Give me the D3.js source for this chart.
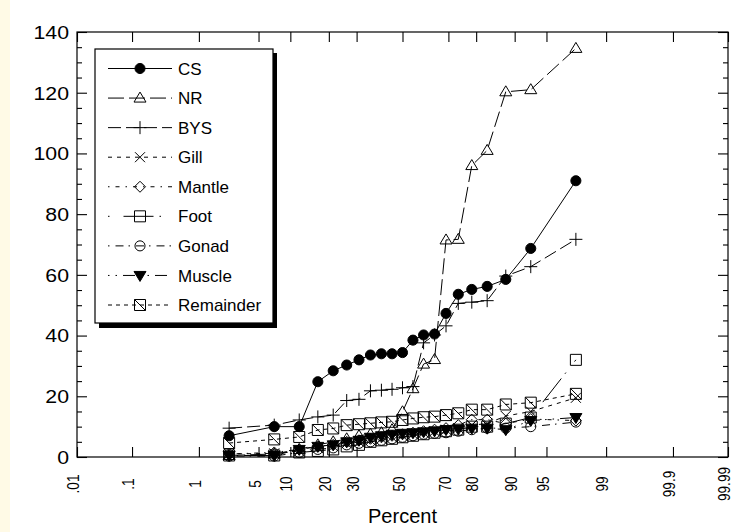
<!DOCTYPE html>
<html><head><meta charset="utf-8">
<script src="https://cdn.jsdelivr.net/npm/d3@7"></script>
<style>
html,body{margin:0;padding:0;background:#fff;}
svg{display:block;}
text{font-family:"Liberation Sans", Arial, sans-serif;fill:#000;}
</style></head><body>
<svg id="chart" width="733" height="532"></svg>
<script>
// ---- data ----
const percent = [2.38, 7.14, 11.9, 16.67, 21.43, 26.19, 30.95, 35.71, 40.48, 45.24, 50, 54.76, 59.52, 64.29, 69.05, 73.81, 78.57, 83.33, 88.1, 92.86, 97.62];
const seriesNames = ["CS", "NR", "BYS", "Gill", "Mantle", "Foot", "Gonad", "Muscle", "Remainder"];
const cs        = [7, 10, 10, 24.8, 28.4, 30.3, 32, 33.6, 34, 34, 34.4, 38.5, 40.2, 40.5, 47.3, 53.6, 55.2, 56.2, 58.5, 68.7, 91];
const nr        = [0.5, 1, 2.5, 4, 5, 6, 7, 7.5, 8, 9, 14.9, 22.5, 30.6, 32.1, 71.5, 71.7, 96, 101, 120.3, 121, 134.6];
const bys       = [9.5, 10.5, 12.2, 13.2, 13.8, 18.6, 19, 21.8, 22, 22.3, 22.8, 23.2, 37.6, 40.2, 43.2, 50.6, 51, 51.5, 59.6, 62.7, 71.7];
const gill      = [1, 1.2, 2, 3, 3.5, 4.5, 5, 5.5, 6, 6.5, 7, 7.5, 8, 8.5, 9, 9.5, 10.5, 11, 13.5, 15, 19.5];
const mantle    = [1, 1.5, 2.5, 3.5, 4, 5, 5.5, 6, 6.5, 7, 7.5, 8, 8.5, 9, 9.5, 10.5, 12.3, 12.3, 11, 12.5, 12];
const foot      = [0.5, 0.5, 1.5, 2, 2.5, 3.5, 4, 5, 5.5, 6, 6.5, 7, 7.5, 8, 8.5, 9, 10, 10, 11, 13, 32];
const gonad     = [0.3, 0.3, 1.5, 2.5, 3, 4, 4.5, 5, 5.5, 6, 6.5, 7, 7.5, 7.8, 8, 8.5, 9, 9.5, 9.5, 10, 11.5];
const muscle    = [0.5, 0.5, 2.5, 3.5, 4, 5, 5.5, 6.5, 7, 7.5, 7.8, 8, 8.3, 8.6, 9, 9.2, 9.5, 9.5, 9, 12, 13];
const remainder = [4.6, 5.8, 6.6, 8.9, 9.4, 10.5, 10.8, 11.1, 11.4, 11.6, 12.2, 12.7, 13.1, 13.3, 13.8, 14.4, 15.6, 15.6, 17.3, 17.9, 20.8];
const xTickValues = [0.01, 0.1, 1, 5, 10, 20, 30, 50, 70, 80, 90, 95, 99, 99.9, 99.99];
const xTickLabels = [".01", ".1", "1", "5", "10", "20", "30", "50", "70", "80", "90", "95", "99", "99.9", "99.99"];
const yTickValues = [0, 20, 40, 60, 80, 100, 120, 140];
const xTitle = "Percent";

// ---- styles ----
const styles = {
  CS:        {dash: null,            marker: "circleFilled"},
  NR:        {dash: "16,5",          marker: "triUp"},
  BYS:       {dash: "13,5",          marker: "plus"},
  Gill:      {dash: "4,5",           marker: "x"},
  Mantle:    {dash: "1.5,6,4,6",     marker: "diamond"},
  Foot:      {dash: "1.5,14,30,6",   marker: "square"},
  Gonad:     {dash: "1.5,6,8,5",     marker: "circle"},
  Muscle:    {dash: "1.5,6,1.5,6,12,5", marker: "triDown"},
  Remainder: {dash: "4,4",           marker: "squareDiag"}
};
const values = {CS: cs, NR: nr, BYS: bys, Gill: gill, Mantle: mantle, Foot: foot, Gonad: gonad, Muscle: muscle, Remainder: remainder};

function probit(p){
  const a=[-3.969683028665376e+01,2.209460984245205e+02,-2.759285104469687e+02,1.383577518672690e+02,-3.066479806614716e+01,2.506628277459239e+00];
  const b=[-5.447609879822406e+01,1.615858368580409e+02,-1.556989798598866e+02,6.680131188771972e+01,-1.328068155288572e+01];
  const c=[-7.784894002430293e-03,-3.223964580411365e-01,-2.400758277161838e+00,-2.549732539343734e+00,4.374664141464968e+00,2.938163982698783e+00];
  const d=[7.784695709041462e-03,3.224671290700398e-01,2.445134137142996e+00,3.754408661907416e+00];
  const pl=0.02425, ph=1-pl; let q,r;
  if(p<pl){q=Math.sqrt(-2*Math.log(p));return (((((c[0]*q+c[1])*q+c[2])*q+c[3])*q+c[4])*q+c[5])/((((d[0]*q+d[1])*q+d[2])*q+d[3])*q+1);}
  if(p<=ph){q=p-0.5;r=q*q;return (((((a[0]*r+a[1])*r+a[2])*r+a[3])*r+a[4])*r+a[5])*q/(((((b[0]*r+b[1])*r+b[2])*r+b[3])*r+b[4])*r+1);}
  q=Math.sqrt(-2*Math.log(1-p));return -(((((c[0]*q+c[1])*q+c[2])*q+c[3])*q+c[4])*q+c[5])/((((d[0]*q+d[1])*q+d[2])*q+d[3])*q+1);
}

const L = 77, R = 728, T = 32, B = 457;
const zScale = d3.scaleLinear().domain([probit(0.0001), probit(0.9999)]).range([L, R]);
const x = p => zScale(probit(p / 100));
const y = d3.scaleLinear().domain([0, 140]).range([B, T]);

const svg = d3.select("#chart");
svg.append("rect").attr("width", 733).attr("height", 532).attr("fill", "#fff");
svg.append("rect").attr("width", 10).attr("height", 532).attr("fill", "#FFFAE6");

// frame
svg.append("rect").attr("x", L).attr("y", T).attr("width", R - L).attr("height", B - T)
  .attr("fill", "none").attr("stroke", "#000").attr("stroke-width", 1.2);

// axes (ticks only)
const zTicks = xTickValues.map(p => probit(p / 100));
const minorY = d3.range(0, 141, 5).filter(v => v % 20 !== 0);
function tickOnly(g){ g.select(".domain").remove(); g.selectAll("line").attr("stroke", "#000").attr("stroke-width", 1.1); }
svg.append("g").attr("transform", `translate(0,${B})`)
  .call(d3.axisBottom(zScale).tickValues(zTicks).tickSize(-10).tickFormat("")).call(tickOnly);
svg.append("g").attr("transform", `translate(0,${T})`)
  .call(d3.axisTop(zScale).tickValues(zTicks).tickSize(-10).tickFormat("")).call(tickOnly);
svg.append("g").attr("transform", `translate(${L},0)`)
  .call(d3.axisLeft(y).tickValues(yTickValues).tickSize(-10).tickFormat("")).call(tickOnly);
svg.append("g").attr("transform", `translate(${L},0)`)
  .call(d3.axisLeft(y).tickValues(minorY).tickSize(-5).tickFormat("")).call(tickOnly);
svg.append("g").attr("transform", `translate(${R},0)`)
  .call(d3.axisRight(y).tickValues(yTickValues).tickSize(-10).tickFormat("")).call(tickOnly);
svg.append("g").attr("transform", `translate(${R},0)`)
  .call(d3.axisRight(y).tickValues(minorY).tickSize(-5).tickFormat("")).call(tickOnly);

// tick labels
svg.append("g").selectAll("text").data(yTickValues).join("text")
  .attr("transform", d => `translate(69,${y(d)}) scale(1.12,1)`)
  .attr("text-anchor", "end").attr("dy", "0.36em").attr("font-size", 19).text(d => d);
svg.append("g").selectAll("text").data(xTickValues).join("text")
  .attr("transform", d => `translate(${x(d) - 3.5},484) rotate(-90) scale(0.85,1)`)
  .attr("text-anchor", "middle").attr("dy", "0.35em").attr("font-size", 16)
  .text((d, i) => xTickLabels[i]);
svg.append("text").attr("x", (L + R) / 2).attr("y", 523).attr("text-anchor", "middle")
  .attr("font-size", 20).text(xTitle);

// markers
function markerPath(type){
  switch(type){
    case "triUp": return "M0,-6L6,4L-6,4Z";
    case "triDown": return "M-6,-4L6,-4L0,6Z";
    case "plus": return "M-6.5,0H6.5M0,-6.5V6.5";
    case "x": return "M-5,-5L5,5M-5,5L5,-5";
    case "diamond": return "M0,-5.5L5.5,0L0,5.5L-5.5,0Z";
    case "square": return "M-5.5,-5.5H5.5V5.5H-5.5Z";
    case "squareDiag": return "M-5.5,-5.5H5.5V5.5H-5.5ZM-5.5,-5.5L5.5,5.5";
    default: return d3.symbol(d3.symbolCircle, 80)();
  }
}
function drawMarker(g, type){
  const filled = type === "circleFilled" || type === "triDown";
  g.append("path").attr("d", markerPath(type))
    .attr("fill", filled ? "#000" : "none").attr("stroke", "#000").attr("stroke-width", 1);
}

const line = d3.line().x((d, i) => x(percent[i])).y(d => y(d));
const plot = svg.append("g");
seriesNames.forEach(name => {
  const st = styles[name];
  const vals = values[name];
  plot.append("path").attr("d", line(vals)).attr("fill", "none")
    .attr("stroke", "#000").attr("stroke-width", 1)
    .attr("stroke-dasharray", st.dash);
  vals.forEach((v, i) => {
    const g = plot.append("g").attr("transform", `translate(${x(percent[i])},${y(v)})`);
    drawMarker(g, st.marker);
  });
});

// legend
const lg = svg.append("g");
lg.append("rect").attr("x", 99).attr("y", 53).attr("width", 178).attr("height", 275).attr("fill", "#000");
lg.append("rect").attr("x", 95).attr("y", 49).attr("width", 178).attr("height", 274)
  .attr("fill", "#fff").attr("stroke", "#000").attr("stroke-width", 1.2);
const legendY = d3.scalePoint().domain(seriesNames).range([68.5, 305]);
seriesNames.forEach(name => {
  const st = styles[name];
  const ly = legendY(name);
  lg.append("line").attr("x1", 108).attr("x2", 172).attr("y1", ly).attr("y2", ly)
    .attr("stroke", "#000").attr("stroke-width", 1).attr("stroke-dasharray", st.dash);
  const g = lg.append("g").attr("transform", `translate(140,${ly})`);
  drawMarker(g, st.marker);
  lg.append("text").attr("x", 178).attr("y", ly).attr("dy", "0.36em")
    .attr("font-size", 17).text(name);
});
</script>
</body></html>
